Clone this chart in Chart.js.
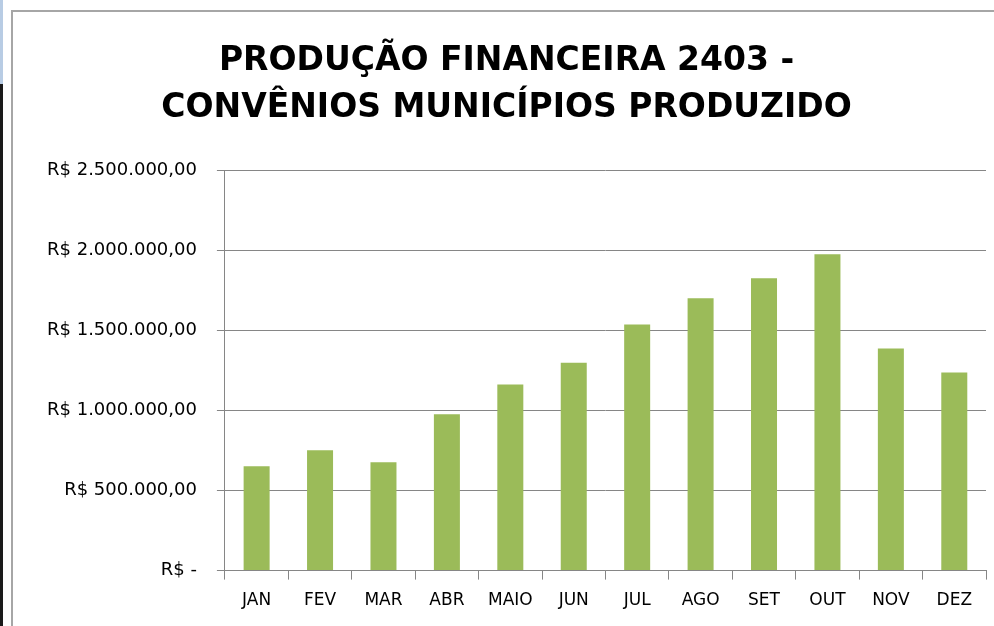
<!DOCTYPE html>
<html>
<head>
<meta charset="utf-8">
<script src="https://cdn.jsdelivr.net/npm/chart.js@4"></script>
<style>
    html, body { margin: 0; padding: 0; background: #fff; overflow: hidden; }
    body { width: 994px; height: 626px; position: relative; }
    /* excel sheet edge on the left */
    #sheetEdge { position: absolute; left: 0; top: 0; width: 3px; height: 626px; background: #1a1a1a; }
    #sheetEdgeTop { position: absolute; left: 0; top: 0; width: 3px; height: 84px; background: #b8cce4; }
    #chartBox {
        position: absolute; left: 11px; top: 10px; width: 1000px; height: 630px;
        border-left: 2px solid #a6a6a6; border-top: 2px solid #a6a6a6;
        background: #fff;
    }
    #chartWrap { position: absolute; left: 0; top: 0; width: 996px; height: 614px; }
</style>
</head>
<body>
<div id="sheetEdge"></div>
<div id="sheetEdgeTop"></div>
<div id="chartBox">
    <div id="chartWrap"><canvas id="prodChart"></canvas></div>
</div>

<script>
// ------------------------
// Data
// ------------------------
const titleLines = ['PRODUÇÃO FINANCEIRA 2403 -', 'CONVÊNIOS MUNICÍPIOS PRODUZIDO'];
const months = ['JAN', 'FEV', 'MAR', 'ABR', 'MAIO', 'JUN', 'JUL', 'AGO', 'SET', 'OUT', 'NOV', 'DEZ'];
const produzido = [652000, 752000, 677000, 977000, 1164000, 1300000, 1539000, 1702000, 1827000, 1977000, 1389000, 1239000];
const yTicks = [0, 500000, 1000000, 1500000, 2000000, 2500000];

// R$ 1.500.000,00 style labels
function formatBRL(v) {
    if (v === 0) return 'R$ -';
    const parts = v.toFixed(2).split('.');
    const intPart = parts[0].replace(/\B(?=(\d{3})+(?!\d))/g, '.');
    return 'R$ ' + intPart + ',' + parts[1];
}

const gridGray = '#868686';
const fontFamily = '"DejaVu Sans", sans-serif';

new Chart(document.getElementById('prodChart'), {
    type: 'bar',
    data: {
        labels: months,
        datasets: [{
            label: 'Produzido',
            data: produzido,
            backgroundColor: '#9bbb59',
            borderWidth: 0,
            barPercentage: 0.41,
            categoryPercentage: 1
        }]
    },
    options: {
        responsive: true,
        maintainAspectRatio: false,
        animation: false,
        layout: { padding: { left: 14, right: 23, top: 25, bottom: 4 } },
        plugins: {
            legend: { display: false },
            tooltip: { enabled: false },
            title: {
                display: true,
                text: titleLines,
                color: '#000',
                font: { family: fontFamily, size: 33, weight: 'bold', lineHeight: 1.45 },
                padding: { top: 0, bottom: 38 }
            }
        },
        scales: {
            x: {
                grid: { drawOnChartArea: false, color: gridGray, tickLength: 9, offset: true },
                border: { color: gridGray, width: 1 },
                ticks: { color: '#000', font: { family: fontFamily, size: 17 }, padding: 11, maxRotation: 0, autoSkip: false }
            },
            y: {
                min: 0,
                max: 2500000,
                afterBuildTicks: axis => { axis.ticks = yTicks.map(v => ({ value: v })); },
                grid: { color: gridGray, tickLength: 8 },
                border: { color: gridGray, width: 1 },
                ticks: { color: '#000', font: { family: fontFamily, size: 18 }, padding: 20, callback: v => formatBRL(v) }
            }
        }
    }
});
</script>
</body>
</html>
